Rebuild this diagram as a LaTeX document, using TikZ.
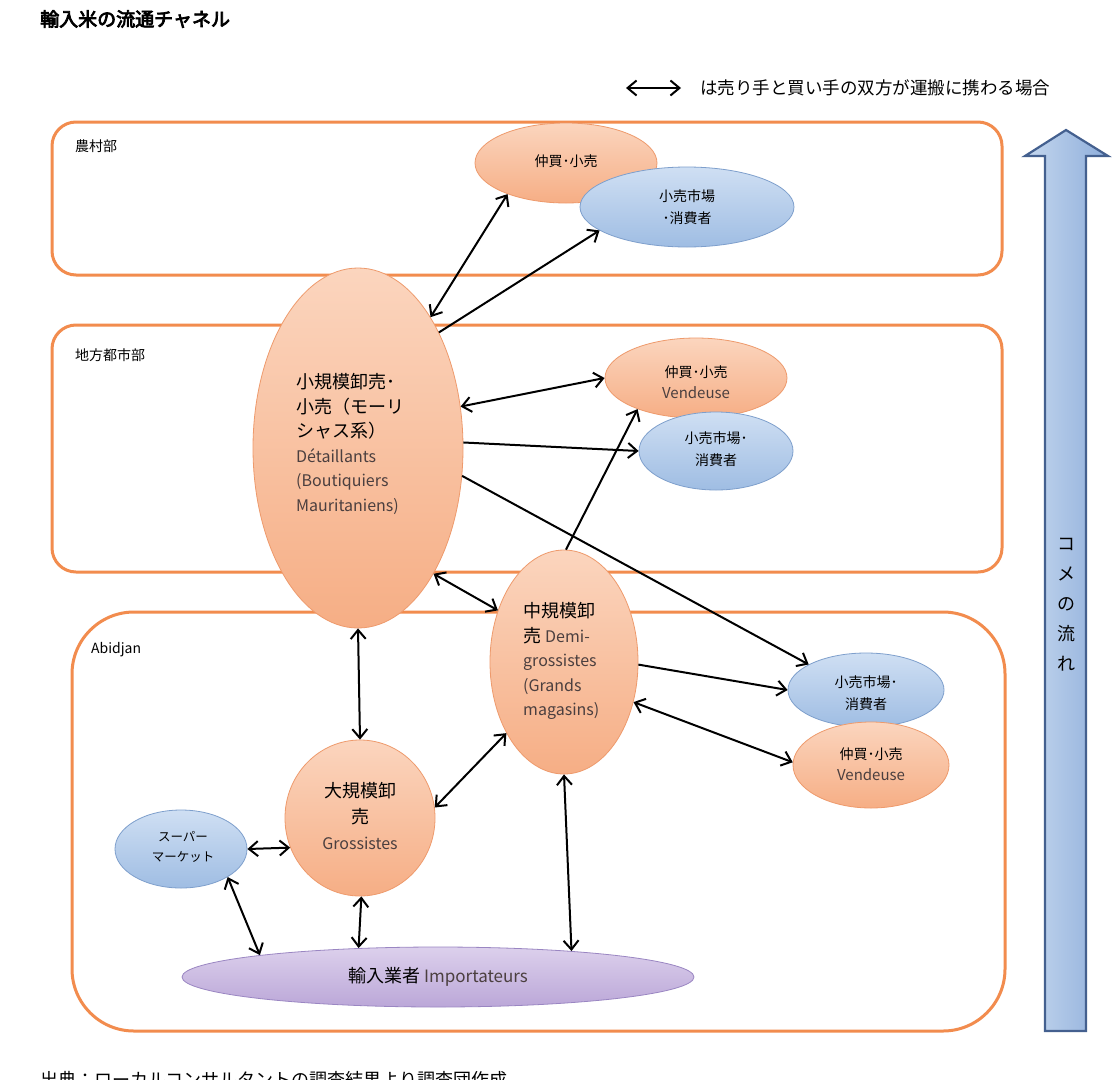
\documentclass[tikz,border=0pt]{standalone}
\usepackage{fontspec}
\setmainfont{Noto Sans CJK JP}
\newfontfamily\jpbold{Noto Sans CJK JP}[FakeBold=4]
\usetikzlibrary{shapes.geometric,arrows.meta}
\definecolor{orFa}{HTML}{FBD5BE}
\definecolor{orFb}{HTML}{F6AE85}
\definecolor{orD}{HTML}{EE9A6C}
\definecolor{blFa}{HTML}{CFDFF3}
\definecolor{blFb}{HTML}{9FBDE3}
\definecolor{blD}{HTML}{7E9FCC}
\definecolor{puFa}{HTML}{DCD0EC}
\definecolor{puFb}{HTML}{BBA7D8}
\definecolor{puD}{HTML}{9A86C2}
\definecolor{regD}{HTML}{F28C4E}
\definecolor{arrFa}{HTML}{C5D7EE}
\definecolor{arrFb}{HTML}{8EAEDB}
\definecolor{arrD}{HTML}{44608F}
\definecolor{latc}{HTML}{4B3F3F}
\newcommand{\fs}[2]{\fontsize{#1}{#2}\selectfont}
\newcommand{\lt}[1]{{\fontsize{16}{24.5}\selectfont\color{latc}#1}}
\newcommand{\ltv}[1]{{\fontsize{15}{22}\selectfont\color{latc}#1}}
\tikzset{
  ell/.style={ellipse, line width=0.8pt, inner sep=0pt},
  oell/.style={ell, draw=orD, top color=orFa, bottom color=orFb},
  bell/.style={ell, draw=blD, top color=blFa, bottom color=blFb},
  pell/.style={ell, draw=puD, top color=puFa, bottom color=puFb},
  reg/.style={draw=regD, line width=3pt, fill=white},
  arr/.style={line width=2pt, -{Straight Barb[length=9pt,width=15pt,line width=2pt]}},
  darr/.style={line width=2pt, {Straight Barb[length=9pt,width=15pt,line width=2pt]}-{Straight Barb[length=9pt,width=15pt,line width=2pt]}},
  stxt/.style={inner sep=0pt, align=center, font=\fs{14}{21.5}},
  btxt/.style={inner sep=0pt, font=\fs{18}{24.5}},
  rlab/.style={inner sep=0pt, anchor=west, font=\fs{14}{16}}
}
\begin{document}
\begin{tikzpicture}[x=1pt,y=-1pt]
\useasboundingbox (0,0) rectangle (1116,1079);
\fill[white] (0,0) rectangle (1116,1079);

% title and legend
\node[anchor=west, inner sep=0pt, font=\fs{19}{22}\jpbold] (title) at (40,19) {輸入米の流通チャネル};
\coordinate (lgA) at (626,88);
\coordinate (lgB) at (681,88);
\draw[darr] (lgA) -- (lgB);
\node[anchor=west, inner sep=0pt, font=\fs{17.5}{20}] (legT) at (700,88) {は売り手と買い手の双方が運搬に携わる場合};

% region boxes
\draw[reg, rounded corners=24pt] (52,122) rectangle (1002,275);
\draw[reg, rounded corners=24pt] (52,325) rectangle (1002,572);
\draw[reg, rounded corners=62pt] (72,612) rectangle (1005,1031);
\node[rlab] (rural) at (75,146) {農村部};
\node[rlab] (city) at (75,355) {地方都市部};
\node[rlab] (abj) at (91,650) {Abidjan};

% flow arrow
\draw[draw=arrD, line width=2.2pt, line join=miter, left color=arrFa, right color=arrFb]
  (1045,1031) -- (1045,156) -- (1025,156) -- (1066,130) -- (1108,156) -- (1086,156) -- (1086,1031) -- cycle;
\node[inner sep=0pt, align=center, font=\fs{18}{30}] (flowT) at (1066,605) {コ\\メ\\の\\流\\れ};

% rural
\node[oell, minimum width=182pt, minimum height=80pt] (rV) at (566,163) {};
\node[stxt] (rVt) at (566,161) {仲買･小売};
\node[bell, minimum width=214pt, minimum height=80pt] (rM) at (687,207) {};
\node[stxt] (rMt) at (687,207) {小売市場\\･消費者};

% big retailer
\node[oell, minimum width=210pt, minimum height=360pt] (big) at (358,448) {};
\node[btxt, anchor=west, align=left] (bigT) at (296,444) {小規模卸売･\\小売（モーリ\\シャス系）\\\lt{Détaillants}\\\lt{(Boutiquiers}\\\lt{Mauritaniens)}};

% city
\node[oell, minimum width=182pt, minimum height=80pt] (cV) at (696,378) {};
\node[stxt] (cVt) at (696,382) {仲買･小売\\\ltv{Vendeuse}};
\node[bell, minimum width=154pt, minimum height=78pt] (cM) at (716,451) {};
\node[stxt] (cMt) at (716,449) {小売市場･\\消費者};

% demi-grossistes
\node[oell, minimum width=148pt, minimum height=224pt] (demi) at (564,662) {};
\node[btxt, anchor=west, align=left] (demiT) at (523,661) {中規模卸\\売\ \lt{Demi-}\\\lt{grossistes}\\\lt{(Grands}\\\lt{magasins)}};

% Abidjan small nodes
\node[bell, minimum width=156pt, minimum height=74pt] (aM) at (866,690) {};
\node[stxt] (aMt) at (866,693) {小売市場･\\消費者};
\node[oell, minimum width=156pt, minimum height=86pt] (aV) at (871,765) {};
\node[stxt] (aVt) at (871,764) {仲買･小売\\\ltv{Vendeuse}};

% grossistes
\node[oell, minimum width=150pt, minimum height=156pt] (gros) at (360,818) {};
\node[btxt, align=center, font=\fs{18}{26}] (grosT) at (360,816) {大規模卸\\売\\\lt{Grossistes}};

% supermarket
\node[bell, minimum width=132pt, minimum height=78pt] (sup) at (181,849) {};
\node[stxt, font=\fs{12.5}{19.5}] (supT) at (183,847) {スーパー\\マーケット};

% importers
\node[pell, minimum width=512pt, minimum height=60pt] (imp) at (438,977) {};
\node[inner sep=0pt, font=\fs{18}{22}] (impT) at (438,977) {輸入業者 {\fontsize{17}{22}\selectfont\color{latc}Importateurs}};

% source (cut at page edge, as in the reference)
\node[anchor=west, inner sep=0pt, font=\fs{18}{20}] (src) at (40,1080) {出典：ローカルコンサルタントの調査結果より調査団作成};

% connectors
\draw[darr] (big.61) -- (rV.208);
\draw[arr] (big.55) -- (rM.195);
\draw[darr] (big.22) -- (cV.180);
\draw[arr] (big.3) -- (cM.180);
\draw[arr] (big.-15) -- (aM.156);
\draw[darr] (big.-59) -- (demi.142);
\draw[arr] (demi.89) -- (cV.208);
\draw[darr] (big.270) -- (gros.90);
\draw[arr] (demi.-2) -- (aM.180);
\draw[darr] (demi.-30) -- (aV.178);
\draw[darr] (gros.8) -- (demi.231);
\draw[darr] (sup.0) -- (gros.203);
\draw[darr] (sup.-31) -- (imp.173);
\draw[darr] (gros.271) -- (imp.160);
\draw[darr] (demi.270) -- (imp.11);
\end{tikzpicture}
\end{document}
